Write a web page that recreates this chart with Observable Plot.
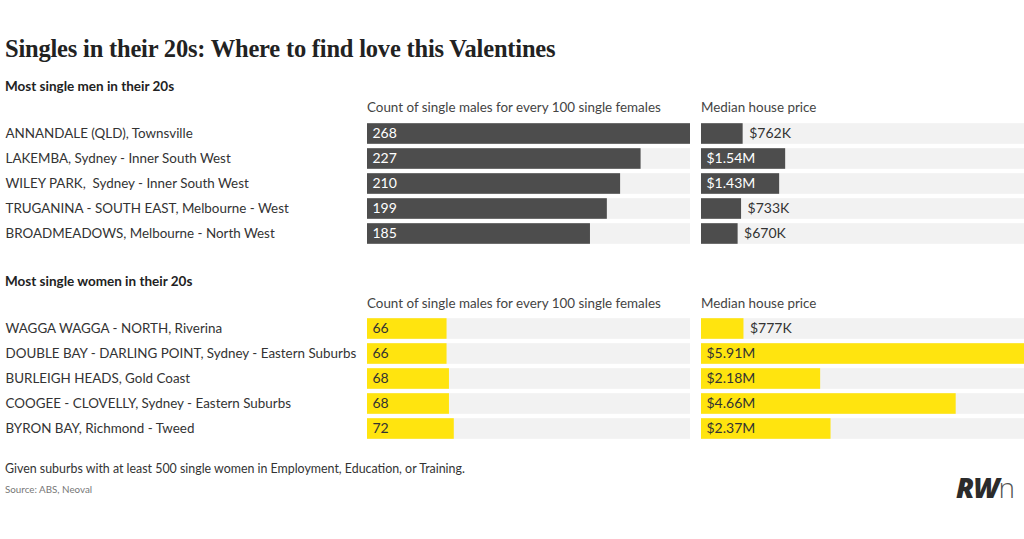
<!DOCTYPE html>
<html><head><meta charset="utf-8">
<script src="https://cdn.jsdelivr.net/npm/d3@7"></script>
<script src="https://cdn.jsdelivr.net/npm/@observablehq/plot@0.6"></script>
<style>
body{margin:0;background:#fff;font-family:Lato,sans-serif;color:#333;}
#root{position:relative;width:1024px;height:539px;overflow:hidden;background:#fff;}
.abs{position:absolute;white-space:nowrap;line-height:1;}
.title{font-family:"Liberation Serif",serif;font-weight:bold;font-size:24.5px;left:5px;top:36.5px;color:#222;letter-spacing:-0.2px;}
.sub{font-size:13.5px;font-weight:bold;left:5px;color:#222;}
.hdr{font-size:13.4px;color:#444;}
.note{font-size:12.4px;left:5px;top:462.5px;color:#333;}
.src{font-size:9.8px;left:5px;top:485px;color:#777;}
.logo{left:956px;top:473px;font-size:28px;}
.logo b{font-family:"Open Sans",sans-serif;font-weight:800;font-style:italic;color:#2b2b2b;letter-spacing:-1px;}
.logo span{font-family:"Open Sans",sans-serif;font-weight:300;color:#555;letter-spacing:1px;}
.plot{position:absolute;}
</style>
</head><body>
<div id="root">
  <div class="abs title">Singles in their 20s: Where to find love this Valentines</div>
  <div class="abs sub" style="top:79.5px">Most single men in their 20s</div>
  <div class="abs hdr" style="left:367px;top:101px">Count of single males for every 100 single females</div>
  <div class="abs hdr" style="left:701px;top:101px">Median house price</div>
  <div class="abs sub" style="top:275px">Most single women in their 20s</div>
  <div class="abs hdr" style="left:367px;top:297px">Count of single males for every 100 single females</div>
  <div class="abs hdr" style="left:701px;top:297px">Median house price</div>
  <div class="abs note">Given suburbs with at least 500 single women in Employment, Education, or Training.</div>
  <div class="abs src">Source: ABS, Neoval</div>
  <div class="abs logo"><b>RW</b><span>n</span></div>
</div>
<script>
// ---- data ----
const menSuburbs = [
  "ANNANDALE (QLD), Townsville",
  "LAKEMBA, Sydney - Inner South West",
  "WILEY PARK,  Sydney - Inner South West",
  "TRUGANINA - SOUTH EAST, Melbourne - West",
  "BROADMEADOWS, Melbourne - North West"
];
const menCounts = [268, 227, 210, 199, 185];
const menPrices = [762000, 1540000, 1430000, 733000, 670000];

const womenSuburbs = [
  "WAGGA WAGGA - NORTH, Riverina",
  "DOUBLE BAY - DARLING POINT, Sydney - Eastern Suburbs",
  "BURLEIGH HEADS, Gold Coast",
  "COOGEE - CLOVELLY, Sydney - Eastern Suburbs",
  "BYRON BAY, Richmond - Tweed"
];
const womenCounts = [66, 66, 68, 68, 72];
const womenPrices = [777000, 5910000, 2180000, 4660000, 2370000];

const countMax = 268;
const priceMax = 5910000;

// ---- helpers ----
const fmtPrice = v => v >= 1e6 ? "$" + (v / 1e6).toFixed(2) + "M" : "$" + Math.round(v / 1000) + "K";
const root = document.getElementById("root");
const BG = "#f2f2f2";
const rowH = 129;
const inset = 2.2;

function section(names, counts, prices, top, fill, inText) {
  const rows = names.map((n, i) => ({name: n, count: counts[i], price: prices[i]}));
  const common = {
    height: rowH, marginTop: 0, marginBottom: 0, marginRight: 0,
    y: {domain: names, axis: null, padding: 0},
    style: {fontFamily: "Lato, sans-serif", fontSize: "13px", background: "transparent", overflow: "visible"}
  };
  const countPlot = Plot.plot({
    ...common,
    width: 690, marginLeft: 367,
    x: {domain: [0, countMax], axis: null},
    marks: [
      Plot.barX(rows, {x1: 0, x2: () => countMax, y: "name", fill: BG, insetTop: inset, insetBottom: inset}),
      Plot.barX(rows, {x1: 0, x2: "count", y: "name", fill: fill, insetTop: inset, insetBottom: inset}),
      Plot.text(rows, {x: 0, y: "name", text: d => String(d.count), textAnchor: "start", dx: 5, fill: inText, fontSize: 14}),
      Plot.text(rows, {y: "name", text: "name", frameAnchor: "left", textAnchor: "start", dx: -362, fill: "#333", fontSize: 13.4})
    ]
  });
  const pricePlot = Plot.plot({
    ...common,
    width: 334, marginLeft: 11,
    x: {domain: [0, priceMax], axis: null},
    marks: [
      Plot.barX(rows, {x1: 0, x2: () => priceMax * 1.01, y: "name", fill: BG, insetTop: inset, insetBottom: inset}),
      Plot.barX(rows, {x1: 0, x2: "price", y: "name", fill: fill, insetTop: inset, insetBottom: inset}),
      Plot.text(rows.filter(d => d.price >= 1e6), {x: 0, y: "name", text: d => fmtPrice(d.price), textAnchor: "start", dx: 5, fill: inText, fontSize: 14}),
      Plot.text(rows.filter(d => d.price < 1e6), {x: "price", y: "name", text: d => fmtPrice(d.price), textAnchor: "start", dx: 6, fill: "#333", fontSize: 14})
    ]
  });
  countPlot.classList.add("plot");
  pricePlot.classList.add("plot");
  countPlot.style.left = "0px"; countPlot.style.top = top + "px";
  pricePlot.style.left = "690px"; pricePlot.style.top = top + "px";
  root.appendChild(countPlot);
  root.appendChild(pricePlot);
}

section(menSuburbs, menCounts, menPrices, 119, "#4d4d4d", "#ffffff");
section(womenSuburbs, womenCounts, womenPrices, 314, "#ffe40f", "#333333");
</script>
</body></html>
